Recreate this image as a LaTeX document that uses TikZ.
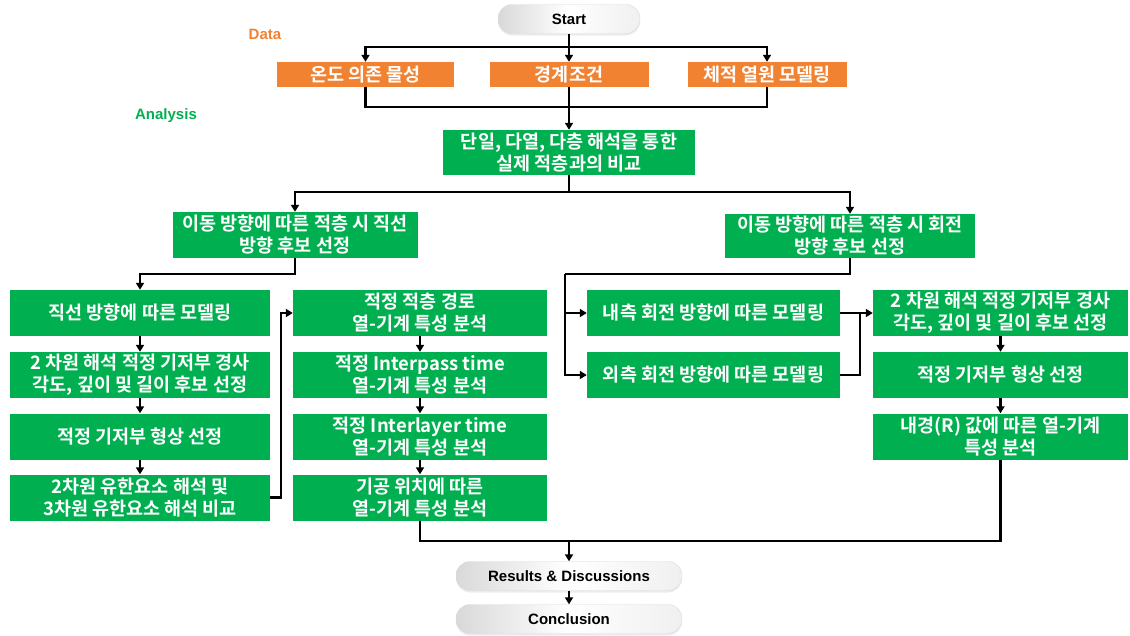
\documentclass[tikz,border=0pt]{standalone}
\usepackage{fontspec}
\setmainfont{Noto Sans CJK KR}[BoldFont=* Bold]
\newfontfamily\lat{Liberation Sans}
\usetikzlibrary{arrows.meta,shadows}
\definecolor{grn}{RGB}{0,176,80}
\definecolor{org}{RGB}{240,130,50}
\begin{document}
\begin{tikzpicture}[x=1pt,y=-1pt,
 box/.style={fill=grn, text=white, font=\bfseries\fontsize{18.5}{22}\selectfont, align=center, inner sep=0pt, minimum height=46pt},
 obox/.style={fill=org, text=white, font=\bfseries\fontsize{18.5}{20}\selectfont, align=center, inner sep=0pt, minimum height=25pt},
 pill/.style={rounded corners=14pt, draw=gray!30, left color=gray!30, right color=gray!12, middle color=white, font=\lat\bfseries\fontsize{15}{17}\selectfont, minimum height=29pt, drop shadow={opacity=0.15,shadow xshift=0pt,shadow yshift=-2pt}},
 arr/.style={line width=2.2pt, line join=miter, -{Triangle[length=7pt,width=8pt]}},
 ln/.style={line width=2.2pt, line join=miter},
 lbl/.style={font=\lat\bfseries\fontsize{15}{17}\selectfont}]
\useasboundingbox (0,0) rectangle (1130,635);

\node[pill, minimum width=142pt] (st) at (569,19) {Start};
\node[lbl, text=org] (data) at (265,34) {Data};
\node[lbl, text=grn] (ana) at (166,116) {Analysis};

\node[obox, minimum width=177pt] (o1) at (365.5,74.5) {온도 의존 물성};
\node[obox, minimum width=159pt] (o2) at (569,74.5) {경계조건};
\node[obox, minimum width=159pt] (o3) at (767,74.5) {체적 열원 모델링};

\node[box, minimum width=252pt, minimum height=45pt] (g0) at (569,152.5) {단일, 다열, 다층 해석을 통한\\실제 적층과의 비교};
\node[box, minimum width=245pt] (gL) at (295,235) {이동 방향에 따른 적층 시 직선\\방향 후보 선정};
\node[box, minimum width=250pt, minimum height=44pt] (gR) at (850,236) {이동 방향에 따른 적층 시 회전\\방향 후보 선정};

\node[box, minimum width=260pt] (L1) at (140,313) {직선 방향에 따른 모델링};
\node[box, minimum width=260pt] (L2) at (140,375) {2 차원 해석 적정 기저부 경사\\각도, 깊이 및 길이 후보 선정};
\node[box, minimum width=260pt] (L3) at (140,436.5) {적정 기저부 형상 선정};
\node[box, minimum width=260pt] (L4) at (140,497.5) {2차원 유한요소 해석 및\\3차원 유한요소 해석 비교};

\node[box, minimum width=254pt] (C1) at (420,313) {적정 적층 경로\\열-기계 특성 분석};
\node[box, minimum width=254pt] (C2) at (420,375) {적정 Interpass time\\열-기계 특성 분석};
\node[box, minimum width=254pt] (C3) at (420,436.5) {적정 Interlayer time\\열-기계 특성 분석};
\node[box, minimum width=254pt] (C4) at (420,497.5) {기공 위치에 따른\\열-기계 특성 분석};

\node[box, minimum width=253pt] (M1) at (713.5,313) {내측 회전 방향에 따른 모델링};
\node[box, minimum width=253pt] (M2) at (713.5,375) {외측 회전 방향에 따른 모델링};

\node[box, minimum width=255pt] (R1) at (1000.5,313) {2 차원 해석 적정 기저부 경사\\각도, 깊이 및 길이 후보 선정};
\node[box, minimum width=255pt] (R2) at (1000.5,375) {적정 기저부 형상 선정};
\node[box, minimum width=255pt] (R3) at (1000.5,436.5) {내경(R) 값에 따른 열-기계\\특성 분석};

\node[pill, minimum width=226pt] (res) at (569,576) {Results \& Discussions};
\node[pill, minimum width=226pt] (con) at (569,619) {Conclusion};

\coordinate (j1) at (569,47);
\coordinate (j2) at (569,107);
\coordinate (j3) at (569,192);
\coordinate (jl) at (295,274);
\coordinate (jr) at (565,274);
\coordinate (jv) at (860,313);
\coordinate (jb) at (569,541);

\draw[ln] (st) -- (j1);
\draw[arr] (j1) -| (o1);
\draw[arr] (j1) -| (o3);
\draw[arr] (j1) -- (o2);
\draw[ln] (o1) |- (j2);
\draw[ln] (o3) |- (j2);
\draw[arr] (o2) -- (g0);
\draw[ln] (g0) -- (j3);
\draw[arr] (j3) -| (gL);
\draw[arr] (j3) -| (gR);

\draw[arr] (gL) -- (jl) -| (L1);
\draw[arr] (L1) -- (L2);
\draw[arr] (L2) -- (L3);
\draw[arr] (L3) -- (L4);
\draw[arr] (L4.east) -- ++(11,0) |- (C1.west);
\draw[arr] (C1) -- (C2);
\draw[arr] (C2) -- (C3);
\draw[arr] (C3) -- (C4);

\draw[ln] (gR) |- (jr);
\draw[arr] (jr) |- (M1);
\draw[arr] (jr) |- (M2);
\draw[arr] (M1) -- (R1);
\draw[ln] (M2) -| (jv);
\draw[arr] (R1) -- (R2);
\draw[arr] (R2) -- (R3);

\draw[ln] (C4) |- (jb);
\draw[ln] (R3) |- (jb);
\draw[arr] (jb) -- (res);
\draw[arr] (res) -- (con);
\end{tikzpicture}
\end{document}
